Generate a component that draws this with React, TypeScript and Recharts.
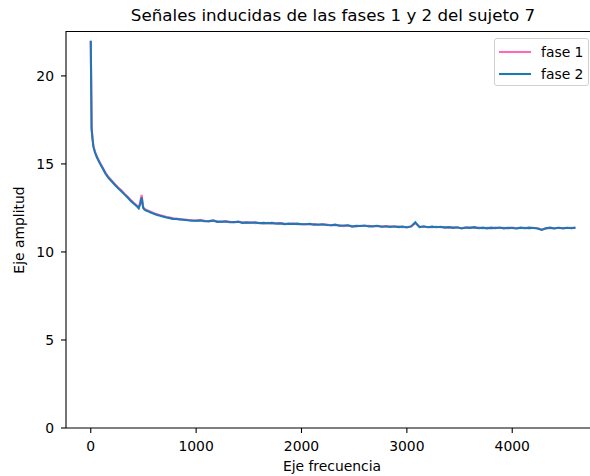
import React from "react";
import { LineChart, Line, XAxis, YAxis, Legend } from "recharts";

// Frequency bins (Hz)
const frecuencias: number[] = [
  0, 8, 16, 25, 40, 60, 85, 110, 140, 170,
  200, 230, 260, 290, 320, 350, 380, 410, 440, 455,
  469, 483, 497, 510, 530, 550, 575, 600, 630, 660,
  690, 720, 750, 780, 810, 840, 870,
  920, 960, 1000, 1040, 1080, 1120, 1160, 1200, 1240, 1280,
  1320, 1360, 1400, 1440, 1480, 1520, 1560, 1600, 1640, 1680,
  1720, 1760, 1800, 1840, 1880, 1920, 1960, 2000, 2040, 2080,
  2120, 2160, 2200, 2240, 2280, 2320, 2360, 2400, 2440, 2480,
  2520, 2560, 2600, 2640, 2680, 2720, 2760, 2800, 2840, 2880,
  2920, 2960, 3000, 3040, 3080, 3120, 3160, 3200, 3240, 3280,
  3320, 3360, 3400, 3440, 3480, 3520, 3560, 3600, 3640, 3680,
  3720, 3760, 3800, 3840, 3880, 3920, 3960, 4000, 4040, 4080,
  4120, 4160, 4200, 4240, 4280, 4320, 4360, 4400, 4440, 4480,
  4520, 4560, 4600,
];

// Amplitude, phase 1
const fase1: number[] = [
  22.0, 17.05, 16.5, 16.02, 15.69, 15.39, 15.09, 14.82, 14.5, 14.24,
  14.05, 13.85, 13.66, 13.5, 13.31, 13.14, 12.95, 12.78, 12.63, 12.52,
  12.82, 13.24, 12.56, 12.45, 12.39, 12.33, 12.27, 12.2, 12.14, 12.08,
  12.04, 11.99, 11.96, 11.91, 11.9, 11.87, 11.86,
  11.82, 11.80, 11.76, 11.82, 11.77, 11.73, 11.79, 11.74, 11.70, 11.75,
  11.71, 11.67, 11.72, 11.68, 11.65, 11.68, 11.64, 11.66, 11.62, 11.65,
  11.62, 11.64, 11.64, 11.60, 11.59, 11.62, 11.57, 11.59, 11.58, 11.56,
  11.58, 11.53, 11.56, 11.55, 11.52, 11.53, 11.51, 11.46, 11.50, 11.47,
  11.45, 11.49, 11.47, 11.48, 11.45, 11.47, 11.44, 11.45, 11.45, 11.42,
  11.44, 11.41, 11.42, 11.44, 11.64, 11.43, 11.42, 11.42, 11.40, 11.43,
  11.40, 11.41, 11.38, 11.40, 11.37, 11.36, 11.38, 11.39, 11.37, 11.38,
  11.35, 11.37, 11.34, 11.38, 11.36, 11.37, 11.34, 11.38, 11.35, 11.36,
  11.37, 11.34, 11.37, 11.35, 11.28, 11.34, 11.36, 11.35, 11.37, 11.33,
  11.36, 11.37, 11.36,
];

// Amplitude, phase 2
const fase2: number[] = [
  22.0, 17.0, 16.45, 15.98, 15.65, 15.35, 15.05, 14.78, 14.45, 14.2,
  14.0, 13.8, 13.62, 13.45, 13.27, 13.09, 12.9, 12.74, 12.58, 12.48,
  12.72, 13.1, 12.5, 12.4, 12.34, 12.3, 12.22, 12.17, 12.1, 12.05,
  12.0, 11.96, 11.92, 11.88, 11.87, 11.85, 11.83,
  11.80, 11.77, 11.78, 11.79, 11.74, 11.75, 11.78, 11.71, 11.72, 11.73,
  11.69, 11.70, 11.71, 11.65, 11.68, 11.66, 11.68, 11.63, 11.65, 11.63,
  11.65, 11.60, 11.62, 11.58, 11.61, 11.59, 11.61, 11.57, 11.57, 11.60,
  11.55, 11.56, 11.57, 11.53, 11.52, 11.55, 11.49, 11.50, 11.51, 11.44,
  11.48, 11.47, 11.50, 11.45, 11.46, 11.49, 11.43, 11.46, 11.42, 11.46,
  11.41, 11.44, 11.39, 11.45, 11.68, 11.41, 11.46, 11.40, 11.44, 11.40,
  11.43, 11.38, 11.41, 11.37, 11.40, 11.33, 11.39, 11.37, 11.41, 11.35,
  11.38, 11.34, 11.38, 11.35, 11.39, 11.34, 11.37, 11.36, 11.33, 11.38,
  11.35, 11.38, 11.36, 11.33, 11.25, 11.35, 11.38, 11.33, 11.37, 11.35,
  11.37, 11.35, 11.38,
];

const xTicks: number[] = [0, 1000, 2000, 3000, 4000];
const yTicks: number[] = [0, 5, 10, 15, 20];
const xDominio: [number, number] = [-235, 4795];
const yDominio: [number, number] = [0, 22.55];

const series = [
  { key: "fase1", name: "fase 1", color: "#ff69b4" },
  { key: "fase2", name: "fase 2", color: "#1f77b4" },
];

const titulo = "Señales inducidas de las fases 1 y 2 del sujeto 7";
const etiquetaX = "Eje frecuencia";
const etiquetaY = "Eje amplitud";

const data = frecuencias.map((f, i) => ({ f, fase1: fase1[i], fase2: fase2[i] }));

const FONT = "'DejaVu Sans', sans-serif";

// Plot-area frame (matches the chart margins below)
const AREA = { left: 66, top: 31, width: 600 - 66 - 4, height: 476 - 31 - 48 };

function LegendBox() {
  return (
    <div
      style={{
        width: 95,
        height: 48,
        boxSizing: "border-box",
        border: "1px solid #d0d0d0",
        borderRadius: 3,
        background: "rgba(255,255,255,0.8)",
        fontFamily: FONT,
        fontSize: 13.9,
        color: "#000",
        position: "relative",
      }}
    >
      {series.map((s, i) => (
        <div
          key={s.key}
          style={{ position: "absolute", left: 0, top: 12.5 + i * 22 - 8, height: 16, width: 95 }}
        >
          <svg width={40} height={16} style={{ position: "absolute", left: 0, top: 0 }}>
            <line x1={4} y1={8} x2={36} y2={8} stroke={s.color} strokeWidth={2.1} />
          </svg>
          <span style={{ position: "absolute", left: 46, top: 0, lineHeight: "16px", whiteSpace: "nowrap" }}>
            {s.name}
          </span>
        </div>
      ))}
    </div>
  );
}

export default function App() {
  return (
    <div
      style={{
        position: "absolute",
        left: 0,
        top: 0,
        width: 590,
        height: 476,
        overflow: "hidden",
        background: "#fff",
      }}
    >
      <LineChart
        width={600}
        height={476}
        data={data}
        margin={{ top: AREA.top, right: 4, bottom: 0, left: 0 }}
      >
        <XAxis
          type="number"
          dataKey="f"
          domain={xDominio}
          allowDataOverflow
          ticks={xTicks}
          height={48}
          tickSize={5}
          tickMargin={8}
          tick={{ fill: "#000", fontSize: 13.9, fontFamily: FONT }}
          tickLine={{ stroke: "#000", strokeWidth: 1.1 }}
          axisLine={{ stroke: "#000", strokeWidth: 1.1 }}
        />
        <YAxis
          type="number"
          domain={yDominio}
          allowDataOverflow
          ticks={yTicks}
          width={AREA.left}
          tickSize={5}
          tickMargin={7}
          tick={{ fill: "#000", fontSize: 13.9, fontFamily: FONT }}
          tickLine={{ stroke: "#000", strokeWidth: 1.1 }}
          axisLine={{ stroke: "#000", strokeWidth: 1.1 }}
        />
        <Legend
          layout="horizontal"
          verticalAlign="middle"
          align="center"
          content={() => <LegendBox />}
          wrapperStyle={{ position: "absolute", left: 494, top: 38, width: 95, height: 48 }}
        />
        {series.map((s) => (
          <Line
            key={s.key}
            type="linear"
            dataKey={s.key}
            name={s.name}
            stroke={s.color}
            strokeWidth={2.1}
            dot={false}
            activeDot={false}
            isAnimationActive={false}
          />
        ))}
      </LineChart>
      <svg
        width={590}
        height={476}
        style={{ position: "absolute", left: 0, top: 0, pointerEvents: "none" }}
      >
        {/* top and right edges of the plot frame */}
        <path
          d={`M${AREA.left},${AREA.top + 0.5} H${AREA.left + AREA.width} V${AREA.top + AREA.height}`}
          fill="none"
          stroke="#000"
          strokeWidth={1.2}
        />
        <text x={333} y={21} textAnchor="middle" fontFamily={FONT} fontSize={16.7} fill="#000">
          {titulo}
        </text>
        <text x={332} y={471} textAnchor="middle" fontFamily={FONT} fontSize={13.9} fill="#000">
          {etiquetaX}
        </text>
        <text
          transform="rotate(-90)"
          x={-230}
          y={24}
          textAnchor="middle"
          fontFamily={FONT}
          fontSize={13.9}
          fill="#000"
        >
          {etiquetaY}
        </text>
      </svg>
    </div>
  );
}
